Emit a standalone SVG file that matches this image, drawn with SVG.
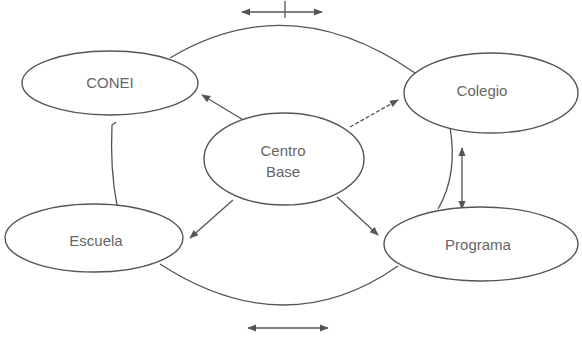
<svg xmlns="http://www.w3.org/2000/svg" width="582" height="338" viewBox="0 0 582 338">
<defs>
<marker id="ah" viewBox="0 0 10 10" refX="9" refY="5" markerWidth="9" markerHeight="9" orient="auto-start-reverse" markerUnits="userSpaceOnUse">
<path d="M0,1 L10,5 L0,9 Z" fill="#555"/>
</marker>
</defs>
<style>
.node ellipse{fill:#fff;stroke:#555;stroke-width:1.4}
.node text{font-family:"Liberation Sans",Arial,sans-serif;font-size:15px;fill:#666;text-anchor:middle;dominant-baseline:central}
.edge{fill:none;stroke:#555;stroke-width:1.3}
.dash{stroke-dasharray:4 2}
</style>
<rect width="582" height="338" fill="#fff"/>
<g id="connectors">
<path class="edge" d="M170,58 Q290,-14 415,73"/>
<path class="edge" d="M160,264 Q285,345 398,266"/>
<line class="edge" x1="242" y1="12" x2="322" y2="12" marker-start="url(#ah)" marker-end="url(#ah)"/>
<line class="edge" x1="285" y1="1" x2="285" y2="18"/>
<line class="edge" x1="248" y1="328" x2="328" y2="328" marker-start="url(#ah)" marker-end="url(#ah)"/>
<path class="edge" d="M116,122 L112,125 Q110,170 117,205"/>
<path class="edge" d="M450,127 Q458,175 438,209"/>
<line class="edge" x1="462" y1="148" x2="462" y2="209" marker-start="url(#ah)" marker-end="url(#ah)"/>
<line class="edge" x1="245" y1="121" x2="202" y2="95" marker-end="url(#ah)"/>
<line class="edge dash" x1="350" y1="127" x2="398" y2="100" marker-end="url(#ah)"/>
<line class="edge" x1="233" y1="200" x2="190" y2="238" marker-end="url(#ah)"/>
<line class="edge" x1="337" y1="197" x2="378" y2="235" marker-end="url(#ah)"/>
</g>
<g id="conei" class="node"><ellipse cx="110" cy="83" rx="88" ry="32"/><text x="110" y="82">CONEI</text></g>
<g id="colegio" class="node"><ellipse cx="491" cy="93" rx="87" ry="40"/><text x="482" y="90">Colegio</text></g>
<g id="centro" class="node"><ellipse cx="284" cy="159" rx="80" ry="46"/><text x="283" y="150">Centro</text><text x="283" y="171">Base</text></g>
<g id="escuela" class="node"><ellipse cx="94" cy="238" rx="89" ry="34"/><text x="96" y="240">Escuela</text></g>
<g id="programa" class="node"><ellipse cx="481" cy="244" rx="97" ry="37"/><text x="478" y="244">Programa</text></g>
</svg>
